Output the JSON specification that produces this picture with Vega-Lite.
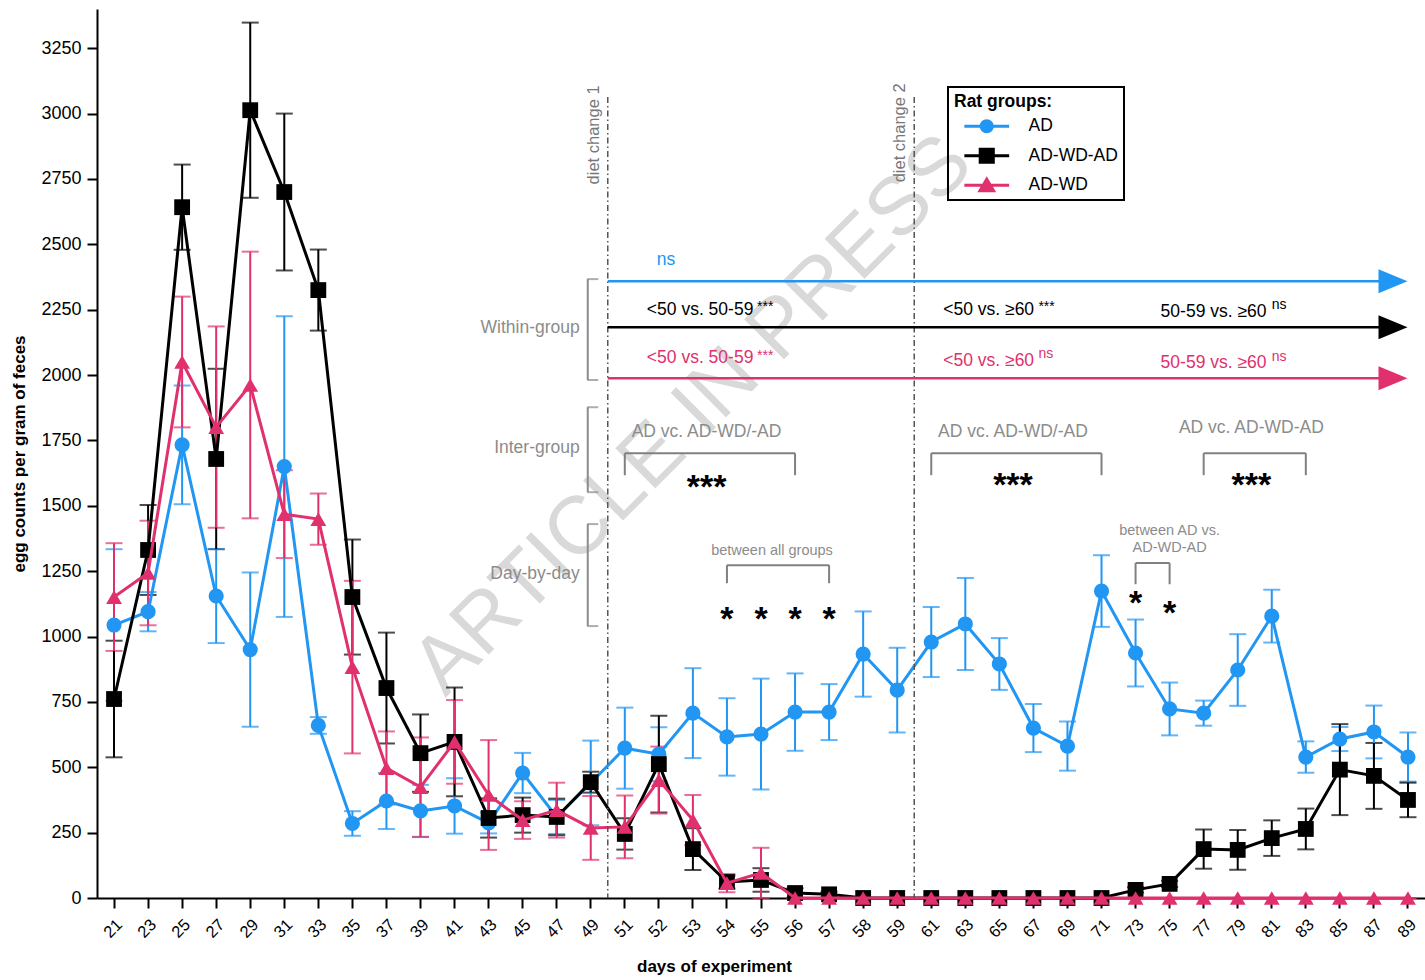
{
  "$schema": "https://vega.github.io/schema/vega-lite/v6.json",
  "width": 1328,
  "height": 889,
  "autosize": "none",
  "padding": {"left": 97, "top": 9, "right": 0, "bottom": 82},
  "background": "white",
  "config": {
    "font": "Liberation Sans",
    "view": {"stroke": null},
    "axis": {"grid": false}
  },
  "datasets": {
    "series": [
      {"day": 21, "group": "AD", "mean": 1044, "sem": 290},
      {"day": 23, "group": "AD", "mean": 1095, "sem": 75},
      {"day": 25, "group": "AD", "mean": 1733, "sem": 227},
      {"day": 27, "group": "AD", "mean": 1155, "sem": 180},
      {"day": 29, "group": "AD", "mean": 950, "sem": 295},
      {"day": 31, "group": "AD", "mean": 1650, "sem": 575},
      {"day": 33, "group": "AD", "mean": 660, "sem": 32},
      {"day": 35, "group": "AD", "mean": 285, "sem": 47},
      {"day": 37, "group": "AD", "mean": 371, "sem": 107},
      {"day": 39, "group": "AD", "mean": 333, "sem": 100},
      {"day": 41, "group": "AD", "mean": 352, "sem": 106},
      {"day": 43, "group": "AD", "mean": 287, "sem": 40},
      {"day": 45, "group": "AD", "mean": 478, "sem": 77},
      {"day": 47, "group": "AD", "mean": 310, "sem": 65},
      {"day": 49, "group": "AD", "mean": 440, "sem": 162},
      {"day": 51, "group": "AD", "mean": 573, "sem": 155},
      {"day": 52, "group": "AD", "mean": 550, "sem": 103},
      {"day": 53, "group": "AD", "mean": 707, "sem": 172},
      {"day": 54, "group": "AD", "mean": 616, "sem": 148},
      {"day": 55, "group": "AD", "mean": 627, "sem": 212},
      {"day": 56, "group": "AD", "mean": 711, "sem": 148},
      {"day": 57, "group": "AD", "mean": 711, "sem": 107},
      {"day": 58, "group": "AD", "mean": 933, "sem": 163},
      {"day": 59, "group": "AD", "mean": 795, "sem": 162},
      {"day": 61, "group": "AD", "mean": 979, "sem": 134},
      {"day": 63, "group": "AD", "mean": 1048, "sem": 176},
      {"day": 65, "group": "AD", "mean": 895, "sem": 99},
      {"day": 67, "group": "AD", "mean": 650, "sem": 92},
      {"day": 69, "group": "AD", "mean": 581, "sem": 94},
      {"day": 71, "group": "AD", "mean": 1174, "sem": 137},
      {"day": 73, "group": "AD", "mean": 937, "sem": 128},
      {"day": 75, "group": "AD", "mean": 723, "sem": 101},
      {"day": 77, "group": "AD", "mean": 707, "sem": 48},
      {"day": 79, "group": "AD", "mean": 872, "sem": 137},
      {"day": 81, "group": "AD", "mean": 1078, "sem": 101},
      {"day": 83, "group": "AD", "mean": 539, "sem": 60},
      {"day": 85, "group": "AD", "mean": 608, "sem": 46},
      {"day": 87, "group": "AD", "mean": 635, "sem": 101},
      {"day": 89, "group": "AD", "mean": 539, "sem": 94},
      {"day": 21, "group": "AD-WD-AD", "mean": 761, "sem": 223},
      {"day": 23, "group": "AD-WD-AD", "mean": 1331, "sem": 172},
      {"day": 25, "group": "AD-WD-AD", "mean": 2642, "sem": 163},
      {"day": 27, "group": "AD-WD-AD", "mean": 1679, "sem": 345},
      {"day": 29, "group": "AD-WD-AD", "mean": 3013, "sem": 335},
      {"day": 31, "group": "AD-WD-AD", "mean": 2700, "sem": 300},
      {"day": 33, "group": "AD-WD-AD", "mean": 2325, "sem": 155},
      {"day": 35, "group": "AD-WD-AD", "mean": 1151, "sem": 220},
      {"day": 37, "group": "AD-WD-AD", "mean": 803, "sem": 212},
      {"day": 39, "group": "AD-WD-AD", "mean": 554, "sem": 148},
      {"day": 41, "group": "AD-WD-AD", "mean": 597, "sem": 208},
      {"day": 43, "group": "AD-WD-AD", "mean": 306, "sem": 75},
      {"day": 45, "group": "AD-WD-AD", "mean": 317, "sem": 67},
      {"day": 47, "group": "AD-WD-AD", "mean": 310, "sem": 70},
      {"day": 49, "group": "AD-WD-AD", "mean": 443, "sem": 40},
      {"day": 51, "group": "AD-WD-AD", "mean": 245, "sem": 60},
      {"day": 52, "group": "AD-WD-AD", "mean": 512, "sem": 185},
      {"day": 53, "group": "AD-WD-AD", "mean": 187, "sem": 80},
      {"day": 54, "group": "AD-WD-AD", "mean": 61, "sem": 25},
      {"day": 55, "group": "AD-WD-AD", "mean": 69, "sem": 45},
      {"day": 56, "group": "AD-WD-AD", "mean": 19, "sem": 18},
      {"day": 57, "group": "AD-WD-AD", "mean": 14, "sem": 10},
      {"day": 58, "group": "AD-WD-AD", "mean": 0, "sem": 0},
      {"day": 59, "group": "AD-WD-AD", "mean": 0, "sem": 0},
      {"day": 61, "group": "AD-WD-AD", "mean": 0, "sem": 0},
      {"day": 63, "group": "AD-WD-AD", "mean": 0, "sem": 0},
      {"day": 65, "group": "AD-WD-AD", "mean": 0, "sem": 0},
      {"day": 67, "group": "AD-WD-AD", "mean": 0, "sem": 0},
      {"day": 69, "group": "AD-WD-AD", "mean": 0, "sem": 0},
      {"day": 71, "group": "AD-WD-AD", "mean": 0, "sem": 0},
      {"day": 73, "group": "AD-WD-AD", "mean": 31, "sem": 10},
      {"day": 75, "group": "AD-WD-AD", "mean": 54, "sem": 12},
      {"day": 77, "group": "AD-WD-AD", "mean": 187, "sem": 75},
      {"day": 79, "group": "AD-WD-AD", "mean": 184, "sem": 76},
      {"day": 81, "group": "AD-WD-AD", "mean": 229, "sem": 68},
      {"day": 83, "group": "AD-WD-AD", "mean": 264, "sem": 78},
      {"day": 85, "group": "AD-WD-AD", "mean": 491, "sem": 174},
      {"day": 87, "group": "AD-WD-AD", "mean": 467, "sem": 126},
      {"day": 89, "group": "AD-WD-AD", "mean": 375, "sem": 66},
      {"day": 21, "group": "AD-WD", "mean": 1151, "sem": 206},
      {"day": 23, "group": "AD-WD", "mean": 1243, "sem": 200},
      {"day": 25, "group": "AD-WD", "mean": 2050, "sem": 250},
      {"day": 27, "group": "AD-WD", "mean": 1801, "sem": 385},
      {"day": 29, "group": "AD-WD", "mean": 1962, "sem": 510},
      {"day": 31, "group": "AD-WD", "mean": 1468, "sem": 168},
      {"day": 33, "group": "AD-WD", "mean": 1449, "sem": 98},
      {"day": 35, "group": "AD-WD", "mean": 883, "sem": 330},
      {"day": 37, "group": "AD-WD", "mean": 497, "sem": 140},
      {"day": 39, "group": "AD-WD", "mean": 424, "sem": 190},
      {"day": 41, "group": "AD-WD", "mean": 597, "sem": 160},
      {"day": 43, "group": "AD-WD", "mean": 394, "sem": 210},
      {"day": 45, "group": "AD-WD", "mean": 298, "sem": 72},
      {"day": 47, "group": "AD-WD", "mean": 336, "sem": 105},
      {"day": 49, "group": "AD-WD", "mean": 268, "sem": 122},
      {"day": 51, "group": "AD-WD", "mean": 272, "sem": 120},
      {"day": 52, "group": "AD-WD", "mean": 451, "sem": 128},
      {"day": 53, "group": "AD-WD", "mean": 298, "sem": 96},
      {"day": 54, "group": "AD-WD", "mean": 57, "sem": 35},
      {"day": 55, "group": "AD-WD", "mean": 96, "sem": 96},
      {"day": 56, "group": "AD-WD", "mean": 0, "sem": 0},
      {"day": 57, "group": "AD-WD", "mean": 0, "sem": 0},
      {"day": 58, "group": "AD-WD", "mean": 0, "sem": 0},
      {"day": 59, "group": "AD-WD", "mean": 0, "sem": 0},
      {"day": 61, "group": "AD-WD", "mean": 0, "sem": 0},
      {"day": 63, "group": "AD-WD", "mean": 0, "sem": 0},
      {"day": 65, "group": "AD-WD", "mean": 0, "sem": 0},
      {"day": 67, "group": "AD-WD", "mean": 0, "sem": 0},
      {"day": 69, "group": "AD-WD", "mean": 0, "sem": 0},
      {"day": 71, "group": "AD-WD", "mean": 0, "sem": 0},
      {"day": 73, "group": "AD-WD", "mean": 0, "sem": 0},
      {"day": 75, "group": "AD-WD", "mean": 0, "sem": 0},
      {"day": 77, "group": "AD-WD", "mean": 0, "sem": 0},
      {"day": 79, "group": "AD-WD", "mean": 0, "sem": 0},
      {"day": 81, "group": "AD-WD", "mean": 0, "sem": 0},
      {"day": 83, "group": "AD-WD", "mean": 0, "sem": 0},
      {"day": 85, "group": "AD-WD", "mean": 0, "sem": 0},
      {"day": 87, "group": "AD-WD", "mean": 0, "sem": 0},
      {"day": 89, "group": "AD-WD", "mean": 0, "sem": 0}
    ],
    "watermark": [{"text": "ARTICLE IN PRESS", "day": 53, "y": 1847}],
    "changes": [
      {"label": "diet change 1", "day": 49, "top": 3063, "labeltop": 3108},
      {"label": "diet change 2", "day": 59, "top": 3063, "labeltop": 3116}
    ],
    "sections": [
      {"name": "Within-group", "day": 49, "mid": 2179, "top": 2367, "bottom": 1981},
      {"name": "Inter-group", "day": 49, "mid": 1721, "top": 1877, "bottom": 1552},
      {"name": "Day-by-day", "day": 49, "mid": 1239, "top": 1430, "bottom": 1040}
    ],
    "arrows": [
      {"group": "AD", "from": 49, "to": 89, "y": 2359},
      {"group": "AD-WD-AD", "from": 49, "to": 89, "y": 2183},
      {"group": "AD-WD", "from": 49, "to": 89, "y": 1988}
    ],
    "wtext": [
      {"group": "AD", "col": 0, "text": "ns", "day": 52, "y": 2420},
      {"group": "AD-WD-AD", "col": 1, "text": "<50 vs. 50-59", "day": 52, "y": 2229, "sup": "***", "supday": 55, "supy": 2246},
      {"group": "AD-WD-AD", "col": 2, "text": "<50 vs. ≥60", "day": 61, "y": 2229, "sup": "***", "supday": 67, "supy": 2246},
      {"group": "AD-WD-AD", "col": 3, "text": "50-59 vs. ≥60", "day": 75, "y": 2221, "sup": "ns", "supday": 81, "supy": 2254},
      {"group": "AD-WD", "col": 1, "text": "<50 vs. 50-59", "day": 52, "y": 2046, "sup": "***", "supday": 55, "supy": 2059},
      {"group": "AD-WD", "col": 2, "text": "<50 vs. ≥60", "day": 61, "y": 2034, "sup": "ns", "supday": 67, "supy": 2067},
      {"group": "AD-WD", "col": 3, "text": "50-59 vs. ≥60", "day": 75, "y": 2026, "sup": "ns", "supday": 81, "supy": 2055}
    ],
    "brackets": [
      {"id": "ig1", "a": 51, "b": 56, "top": 1701, "bottom": 1617},
      {"id": "ig2", "a": 61, "b": 71, "top": 1701, "bottom": 1617},
      {"id": "ig3", "a": 77, "b": 83, "top": 1701, "bottom": 1617},
      {"id": "dd1", "a": 54, "b": 57, "top": 1273, "bottom": 1204},
      {"id": "dd2", "a": 73, "b": 75, "top": 1281, "bottom": 1200}
    ],
    "igtext": [
      {"text": "AD vc. AD-WD/-AD", "day": 53, "y": 1782, "stars": "***", "sy": 1568},
      {"text": "AD vc. AD-WD/-AD", "day": 65, "y": 1782, "stars": "***", "sy": 1575},
      {"text": "AD vc. AD-WD-AD", "day": 79, "y": 1797, "stars": "***", "sy": 1575}
    ],
    "ddtext": [
      {"kind": "all", "text": "between all groups", "day": 55, "y": 1327},
      {"kind": "pair", "text": "between AD vs.", "day": 75, "y": 1403},
      {"kind": "pair", "text": "AD-WD-AD", "day": 75, "y": 1338}
    ],
    "ddstars": [
      {"day": 54, "y": 1062},
      {"day": 55, "y": 1062},
      {"day": 56, "y": 1062},
      {"day": 57, "y": 1062},
      {"day": 73, "y": 1124},
      {"day": 75, "y": 1086}
    ]
  },
  "layer": [
    {
      "data": {"name": "series"},
      "mark": {"type": "point", "filled": true, "opacity": 0, "strokeWidth": 0},
      "encoding": {
        "x": {
          "field": "day", "type": "ordinal",
          "scale": {"type": "band", "paddingInner": 0, "paddingOuter": 0},
          "axis": {
            "title": "days of experiment", "titleFontSize": 17, "titleFontWeight": "bold", "titleColor": "#000",
            "titleX": 617, "titlePadding": 18,
            "labelAngle": -45, "labelFontSize": 16.5, "labelColor": "#000", "labelPadding": 8,
            "tickSize": 10, "tickWidth": 2, "tickColor": "#000", "domainColor": "#000", "domainWidth": 2,
            "bandPosition": 0.5
          }
        },
        "y": {
          "field": "mean", "type": "quantitative",
          "scale": {"domain": [0, 3400], "nice": false, "zero": true},
          "axis": {
            "title": "egg counts per gram of feces", "titleFontSize": 17, "titleFontWeight": "bold", "titleColor": "#000",
            "titlePadding": 12,
            "values": [0, 250, 500, 750, 1000, 1250, 1500, 1750, 2000, 2250, 2500, 2750, 3000, 3250],
            "format": "d", "labelFontSize": 18, "labelColor": "#000", "labelPadding": 6,
            "tickSize": 10, "tickWidth": 2, "tickColor": "#000", "domainColor": "#000", "domainWidth": 2
          }
        },
        "shape": {
          "field": "group", "type": "nominal", "legend": null,
          "scale": {
            "domain": ["AD", "AD-WD-AD", "AD-WD"],
            "range": [
              "M-3.2,-0.22H3.2V0.22H-3.2ZM-1,0A1,1,0,1,1,1,0A1,1,0,1,1,-1,0Z",
              "M-3.2,-0.22H3.2V0.22H-3.2ZM-1.15,-1.15H1.15V1.15H-1.15Z",
              "M-3.2,-0.22H3.2V0.22H-3.2ZM0,-1.3L1.35,1H-1.35Z"
            ]
          }
        },
        "color": {
          "field": "group", "type": "nominal",
          "scale": {"domain": ["AD", "AD-WD-AD", "AD-WD"], "range": ["#2196F3", "#000000", "#E0306E"]},
          "legend": {
            "title": "Rat groups:", "orient": "none", "legendX": 851, "legendY": 78,
            "titleFontSize": 17.5, "titleFontWeight": "bold", "titleColor": "#000", "titlePadding": 7,
            "labelFontSize": 17.5, "labelColor": "#000", "labelOffset": 33,
            "symbolSize": 196, "symbolOffset": 24, "rowPadding": 10.5,
            "symbolOpacity": 1, "symbolStrokeWidth": 0,
            "padding": 6, "strokeColor": "#000",
            "encode": {"legend": {"update": {"strokeWidth": {"value": 2}}}}
          }
        }
      }
    },
    {
      "data": {"name": "watermark"},
      "mark": {"type": "text", "angle": 315, "fontSize": 82, "color": "#d9d9d9", "align": "center", "baseline": "middle"},
      "encoding": {
        "x": {"field": "day", "type": "ordinal"},
        "y": {"field": "y", "type": "quantitative"},
        "text": {"field": "text"}
      }
    },
    {
      "data": {"name": "series"},
      "mark": {"type": "errorbar", "ticks": true, "size": 17, "thickness": 2},
      "encoding": {
        "x": {"field": "day", "type": "ordinal", "title": "days of experiment"},
        "y": {"field": "mean", "type": "quantitative", "title": "egg counts per gram of feces"},
        "yError": {"field": "sem"},
        "color": {"field": "group", "type": "nominal"}
      }
    },
    {
      "data": {"name": "series"},
      "transform": [{"filter": "datum.group === 'AD'"}],
      "mark": {"type": "line", "strokeWidth": 3},
      "encoding": {
        "x": {"field": "day", "type": "ordinal"},
        "y": {"field": "mean", "type": "quantitative"},
        "color": {"field": "group", "type": "nominal"}
      }
    },
    {
      "data": {"name": "series"},
      "transform": [{"filter": "datum.group === 'AD'"}],
      "mark": {"type": "point", "filled": true, "size": 230, "opacity": 1, "shape": "circle"},
      "encoding": {
        "x": {"field": "day", "type": "ordinal"},
        "y": {"field": "mean", "type": "quantitative"},
        "color": {"field": "group", "type": "nominal"}
      }
    },
    {
      "data": {"name": "series"},
      "transform": [{"filter": "datum.group === 'AD-WD-AD'"}],
      "mark": {"type": "line", "strokeWidth": 3},
      "encoding": {
        "x": {"field": "day", "type": "ordinal"},
        "y": {"field": "mean", "type": "quantitative"},
        "color": {"field": "group", "type": "nominal"}
      }
    },
    {
      "data": {"name": "series"},
      "transform": [{"filter": "datum.group === 'AD-WD-AD'"}],
      "mark": {"type": "point", "filled": true, "size": 250, "opacity": 1, "shape": "square"},
      "encoding": {
        "x": {"field": "day", "type": "ordinal"},
        "y": {"field": "mean", "type": "quantitative"},
        "color": {"field": "group", "type": "nominal"}
      }
    },
    {
      "data": {"name": "series"},
      "transform": [{"filter": "datum.group === 'AD-WD'"}],
      "mark": {"type": "line", "strokeWidth": 3},
      "encoding": {
        "x": {"field": "day", "type": "ordinal"},
        "y": {"field": "mean", "type": "quantitative"},
        "color": {"field": "group", "type": "nominal"}
      }
    },
    {
      "data": {"name": "series"},
      "transform": [{"filter": "datum.group === 'AD-WD'"}],
      "mark": {"type": "point", "filled": true, "size": 250, "opacity": 1, "shape": "triangle-up"},
      "encoding": {
        "x": {"field": "day", "type": "ordinal"},
        "y": {"field": "mean", "type": "quantitative"},
        "color": {"field": "group", "type": "nominal"}
      }
    },
    {
      "data": {"name": "changes"},
      "mark": {"type": "rule", "color": "#555555", "strokeWidth": 1.5, "strokeDash": [6, 3, 1.5, 3]},
      "encoding": {
        "x": {"field": "day", "type": "ordinal", "bandPosition": 1},
        "y": {"field": "top", "type": "quantitative"},
        "y2": {"datum": 0}
      }
    },
    {
      "data": {"name": "changes"},
      "mark": {"type": "text", "angle": 270, "align": "right", "baseline": "bottom", "dy": -6, "fontSize": 16.5, "color": "#777777"},
      "encoding": {
        "x": {"field": "day", "type": "ordinal", "bandPosition": 1},
        "y": {"field": "labeltop", "type": "quantitative"},
        "text": {"field": "label"}
      }
    },
    {
      "data": {"name": "sections"},
      "mark": {"type": "text", "align": "right", "baseline": "middle", "dx": -11, "fontSize": 17.5, "color": "#8c8c8c"},
      "encoding": {
        "x": {"field": "day", "type": "ordinal"},
        "y": {"field": "mid", "type": "quantitative"},
        "text": {"field": "name"}
      }
    },
    {
      "data": {"name": "sections"},
      "mark": {"type": "rule", "color": "#8c8c8c", "strokeWidth": 2, "xOffset": -3},
      "encoding": {
        "x": {"field": "day", "type": "ordinal"},
        "y": {"field": "top", "type": "quantitative"},
        "y2": {"field": "bottom"}
      }
    },
    {
      "data": {"name": "sections"},
      "transform": [{"fold": ["top", "bottom"], "as": ["end", "v"]}],
      "mark": {"type": "tick", "orient": "horizontal", "color": "#8c8c8c", "size": 11, "thickness": 2, "xOffset": 2},
      "encoding": {
        "x": {"field": "day", "type": "ordinal"},
        "y": {"field": "v", "type": "quantitative"}
      }
    },
    {
      "data": {"name": "arrows"},
      "mark": {"type": "rule", "strokeWidth": 2.5},
      "encoding": {
        "x": {"field": "from", "type": "ordinal", "bandPosition": 1},
        "x2": {"field": "to", "bandPosition": 0.1},
        "y": {"field": "y", "type": "quantitative"},
        "color": {"field": "group", "type": "nominal"}
      }
    },
    {
      "data": {"name": "arrows"},
      "mark": {"type": "point", "filled": true, "opacity": 1, "size": 841, "xOffset": -15, "shape": "M-1,-0.83L1,0L-1,0.83Z", "strokeWidth": 0},
      "encoding": {
        "x": {"field": "to", "type": "ordinal"},
        "y": {"field": "y", "type": "quantitative"},
        "color": {"field": "group", "type": "nominal"}
      }
    },
    {
      "data": {"name": "wtext"},
      "transform": [{"filter": "datum.col === 0"}],
      "mark": {"type": "text", "align": "left", "baseline": "alphabetic", "dx": -2, "fontSize": 17.5},
      "encoding": {
        "x": {"field": "day", "type": "ordinal"},
        "y": {"field": "y", "type": "quantitative"},
        "text": {"field": "text"},
        "color": {"field": "group", "type": "nominal"}
      }
    },
    {
      "data": {"name": "wtext"},
      "transform": [{"filter": "datum.col === 1"}],
      "mark": {"type": "text", "align": "left", "baseline": "alphabetic", "dx": -12, "fontSize": 17.5},
      "encoding": {
        "x": {"field": "day", "type": "ordinal"},
        "y": {"field": "y", "type": "quantitative"},
        "text": {"field": "text"},
        "color": {"field": "group", "type": "nominal"}
      }
    },
    {
      "data": {"name": "wtext"},
      "transform": [{"filter": "datum.col === 2"}],
      "mark": {"type": "text", "align": "left", "baseline": "alphabetic", "dx": 12, "fontSize": 17.5},
      "encoding": {
        "x": {"field": "day", "type": "ordinal"},
        "y": {"field": "y", "type": "quantitative"},
        "text": {"field": "text"},
        "color": {"field": "group", "type": "nominal"}
      }
    },
    {
      "data": {"name": "wtext"},
      "transform": [{"filter": "datum.col === 3"}],
      "mark": {"type": "text", "align": "left", "baseline": "alphabetic", "dx": -9, "fontSize": 17.5},
      "encoding": {
        "x": {"field": "day", "type": "ordinal"},
        "y": {"field": "y", "type": "quantitative"},
        "text": {"field": "text"},
        "color": {"field": "group", "type": "nominal"}
      }
    },
    {
      "data": {"name": "wtext"},
      "transform": [{"filter": "datum.col === 1"}],
      "mark": {"type": "text", "align": "left", "baseline": "alphabetic", "dx": -4, "fontSize": 14},
      "encoding": {
        "x": {"field": "supday", "type": "ordinal"},
        "y": {"field": "supy", "type": "quantitative"},
        "text": {"field": "sup"},
        "color": {"field": "group", "type": "nominal"}
      }
    },
    {
      "data": {"name": "wtext"},
      "transform": [{"filter": "datum.col === 2"}],
      "mark": {"type": "text", "align": "left", "baseline": "alphabetic", "dx": 5, "fontSize": 14},
      "encoding": {
        "x": {"field": "supday", "type": "ordinal"},
        "y": {"field": "supy", "type": "quantitative"},
        "text": {"field": "sup"},
        "color": {"field": "group", "type": "nominal"}
      }
    },
    {
      "data": {"name": "wtext"},
      "transform": [{"filter": "datum.col === 3"}],
      "mark": {"type": "text", "align": "left", "baseline": "alphabetic", "dx": 0, "fontSize": 14},
      "encoding": {
        "x": {"field": "supday", "type": "ordinal"},
        "y": {"field": "supy", "type": "quantitative"},
        "text": {"field": "sup"},
        "color": {"field": "group", "type": "nominal"}
      }
    },
    {
      "data": {"name": "brackets"},
      "mark": {"type": "rule", "color": "#808080", "strokeWidth": 2},
      "encoding": {
        "x": {"field": "a", "type": "ordinal"},
        "x2": {"field": "b"},
        "y": {"field": "top", "type": "quantitative"}
      }
    },
    {
      "data": {"name": "brackets"},
      "transform": [{"fold": ["a", "b"], "as": ["side", "leg"]}],
      "mark": {"type": "rule", "color": "#808080", "strokeWidth": 2},
      "encoding": {
        "x": {"field": "leg", "type": "ordinal"},
        "y": {"field": "top", "type": "quantitative"},
        "y2": {"field": "bottom"}
      }
    },
    {
      "data": {"name": "igtext"},
      "mark": {"type": "text", "align": "center", "baseline": "middle", "fontSize": 17.5, "color": "#8c8c8c"},
      "encoding": {
        "x": {"field": "day", "type": "ordinal", "bandPosition": 0.9},
        "y": {"field": "y", "type": "quantitative"},
        "text": {"field": "text"}
      }
    },
    {
      "data": {"name": "igtext"},
      "mark": {"type": "text", "align": "center", "baseline": "middle", "fontSize": 34, "fontWeight": "bold", "color": "#000"},
      "encoding": {
        "x": {"field": "day", "type": "ordinal", "bandPosition": 0.9},
        "y": {"field": "sy", "type": "quantitative"},
        "text": {"field": "stars"}
      }
    },
    {
      "data": {"name": "ddtext"},
      "transform": [{"filter": "datum.kind === 'all'"}],
      "mark": {"type": "text", "align": "center", "baseline": "middle", "dx": 11, "fontSize": 14.5, "color": "#8c8c8c"},
      "encoding": {
        "x": {"field": "day", "type": "ordinal"},
        "y": {"field": "y", "type": "quantitative"},
        "text": {"field": "text"}
      }
    },
    {
      "data": {"name": "ddtext"},
      "transform": [{"filter": "datum.kind === 'pair'"}],
      "mark": {"type": "text", "align": "center", "baseline": "middle", "fontSize": 14.5, "color": "#8c8c8c"},
      "encoding": {
        "x": {"field": "day", "type": "ordinal"},
        "y": {"field": "y", "type": "quantitative"},
        "text": {"field": "text"}
      }
    },
    {
      "data": {"name": "ddstars"},
      "mark": {"type": "text", "align": "center", "baseline": "middle", "fontSize": 34, "fontWeight": "bold", "color": "#000", "text": "*"},
      "encoding": {
        "x": {"field": "day", "type": "ordinal"},
        "y": {"field": "y", "type": "quantitative"}
      }
    }
  ]
}
